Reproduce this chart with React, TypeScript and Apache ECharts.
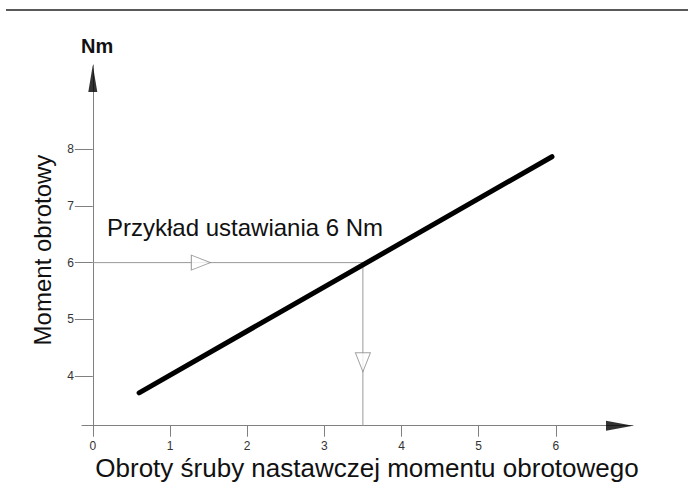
import React, { useEffect, useRef } from "react";
import * as echarts from "echarts";

// Axis ranges and ticks
const xTicks = [0, 1, 2, 3, 4, 5, 6];
const yTicks = [4, 5, 6, 7, 8];
const xMin = -0.14;
const xMax = 7;
const yMin = 3.12;
const yMax = 9.49;

// Torque characteristic (turns -> Nm)
const torqueLine = [
  [0.6, 3.7],
  [5.95, 7.87],
];

// Example: 6 Nm setting
const exampleTorque = 6;
const exampleTurns = 3.5;
const guideHorizontal = [
  [0, exampleTorque],
  [exampleTurns, exampleTorque],
];
const guideVertical = [
  [exampleTurns, exampleTorque],
  [exampleTurns, yMin],
];
const guideMarks = [
  { value: [1.4, exampleTorque], symbolRotate: -90 },
  { value: [exampleTurns, 4.24], symbolRotate: 180 },
];

const FONT = "Liberation Sans, Arial, sans-serif";

export default function App() {
  const ref = useRef<HTMLDivElement>(null);
  useEffect(() => {
    if (!ref.current) return;
    const chart = echarts.init(ref.current, null, { renderer: "svg" });
    chart.setOption({
      animation: false,
      backgroundColor: "#ffffff",
      grid: { left: 82, right: 55, top: 65, bottom: 62.3 },
      xAxis: {
        type: "value",
        min: xMin,
        max: xMax,
        axisLine: { show: true, onZero: false, lineStyle: { color: "#808080", width: 1 } },
        axisTick: { show: true, customValues: xTicks, length: 11, lineStyle: { color: "#808080" } },
        axisLabel: { customValues: xTicks, margin: 14, fontSize: 12, color: "#333", fontFamily: FONT },
        splitLine: { show: false },
      },
      yAxis: {
        type: "value",
        min: yMin,
        max: yMax,
        axisLine: { show: true, onZero: true, lineStyle: { color: "#808080", width: 1 } },
        axisTick: { show: true, customValues: yTicks, length: 18, lineStyle: { color: "#808080" } },
        axisLabel: { customValues: yTicks, margin: 8, fontSize: 12, color: "#333", fontFamily: FONT },
        splitLine: { show: false },
      },
      graphic: [
        { type: "line", shape: { x1: 6, y1: 10, x2: 688, y2: 10 }, style: { stroke: "#222", lineWidth: 1.5 } },
        {
          type: "text",
          left: 81,
          top: 36,
          style: { text: "Nm", font: `bold 20px ${FONT}`, fill: "#111" },
        },
        {
          type: "text",
          x: 107,
          y: 227,
          style: { text: "Przykład ustawiania 6 Nm", font: `24px ${FONT}`, fill: "#111", textVerticalAlign: "middle" },
        },
        {
          type: "text",
          x: 42,
          y: 250,
          rotation: Math.PI / 2,
          style: { text: "Moment obrotowy", font: `24px ${FONT}`, fill: "#111", textAlign: "center", textVerticalAlign: "middle" },
        },
        {
          type: "text",
          x: 367,
          y: 468,
          style: {
            text: "Obroty śruby nastawczej momentu obrotowego",
            font: `26px ${FONT}`,
            fill: "#111",
            textAlign: "center",
            textVerticalAlign: "middle",
          },
        },
      ],
      series: [
        {
          type: "line",
          data: guideHorizontal,
          symbol: "none",
          clip: false,
          lineStyle: { color: "#999", width: 1 },
          z: 2,
        },
        {
          type: "line",
          data: guideVertical,
          symbol: "none",
          clip: false,
          lineStyle: { color: "#999", width: 1 },
          z: 2,
        },
        {
          type: "scatter",
          data: guideMarks,
          symbol: "triangle",
          symbolSize: [15, 19],
          itemStyle: { color: "#fff", borderColor: "#888", borderWidth: 1 },
          z: 3,
        },
        {
          type: "line",
          data: torqueLine,
          symbol: "none",
          clip: false,
          lineStyle: { color: "#000", width: 5, cap: "round" },
          z: 4,
        },
        {
          type: "scatter",
          data: [{ value: [0, yMax], symbolRotate: 0, symbolOffset: [0, 13.5], symbolSize: [9, 27] }],
          symbol: "triangle",
          itemStyle: { color: "#000" },
          clip: false,
          z: 5,
        },
        {
          type: "scatter",
          data: [{ value: [xMax, yMin], symbolRotate: -90, symbolOffset: [-13.5, 0], symbolSize: [10, 27] }],
          symbol: "triangle",
          itemStyle: { color: "#000" },
          clip: false,
          z: 5,
        },
      ],
    });
    return () => chart.dispose();
  }, []);
  return (
    <div
      ref={ref}
      style={{ position: "fixed", left: 0, top: 0, width: 688, height: 488 }}
    />
  );
}
